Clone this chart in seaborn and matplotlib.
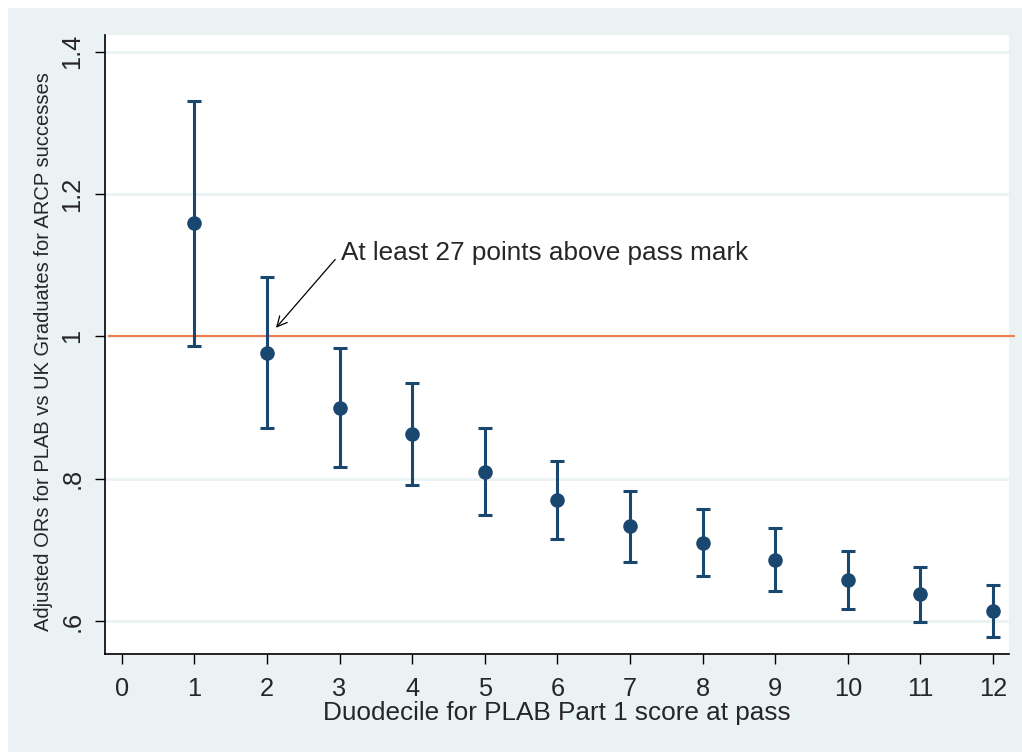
import matplotlib
matplotlib.use("Agg")
import matplotlib.pyplot as plt
import seaborn as sns
import pandas as pd

# duodecile, adjusted OR and 95% CI
duodecile = [1, 2, 3, 4, 5, 6, 7, 8, 9, 10, 11, 12]
odds_ratio = [1.159, 0.977, 0.900, 0.863, 0.810, 0.770, 0.733, 0.710, 0.686, 0.658, 0.638, 0.614]
ci_low = [0.987, 0.871, 0.817, 0.791, 0.749, 0.715, 0.683, 0.663, 0.642, 0.617, 0.599, 0.577]
ci_high = [1.330, 1.083, 0.983, 0.934, 0.871, 0.825, 0.783, 0.757, 0.731, 0.699, 0.676, 0.650]
x_ticks = list(range(0, 13))
y_ticks = [0.6, 0.8, 1.0, 1.2, 1.4]
y_tick_labels = [".6", ".8", "1", "1.2", "1.4"]

df = pd.DataFrame({"duodecile": duodecile, "or": odds_ratio, "lo": ci_low, "hi": ci_high})

bg = "#EAF2F3"
navy = "#1A476F"

sns.set_style("white")
plt.rcParams["font.family"] = ["Liberation Sans", "DejaVu Sans"]

fig = plt.figure(figsize=(10.22, 7.52), dpi=100, facecolor="white")
# light outer panel with a thin white margin on the top and left
fig.patches.append(plt.Rectangle((8 / 1022, 0), 1, 1 - 8 / 752, transform=fig.transFigure,
                                 facecolor=bg, edgecolor="none", zorder=-10))
ax = fig.add_axes([105 / 1022, 1 - 654 / 752, 904 / 1022, 619 / 752])
ax.set_zorder(1)
ax.set_facecolor("white")

for y in y_ticks:
    ax.axhline(y, color=bg, lw=2, zorder=1)
# reference line runs a little past the plot region
ax.hlines(1.0, -0.19, 12.30, color="#F07D4A", lw=1.5, zorder=2, clip_on=False)

ax.errorbar(df["duodecile"], df["or"],
            yerr=[df["or"] - df["lo"], df["hi"] - df["or"]],
            fmt="none", ecolor=navy, elinewidth=2.2, capsize=4.8, capthick=2.2, zorder=3)
sns.scatterplot(data=df, x="duodecile", y="or", color=navy, s=110, edgecolor=navy,
                linewidth=0, ax=ax, zorder=4)

# annotation: arrow and text drawn separately
ax.annotate("", xy=(2.125, 1.012), xytext=(2.94, 1.108),
            arrowprops=dict(arrowstyle="->", color="black", lw=0.9, shrinkA=0, shrinkB=0,
                            mutation_scale=18))
ax.text(3.02, 1.1067, "At least 27 points above pass mark", fontsize=18.8,
        ha="left", va="baseline")

ax.set_xlim(-0.23, 12.22)
ax.set_ylim(0.5537, 1.4234)
ax.set_xticks(x_ticks)
ax.set_yticks(y_ticks)
ax.set_yticklabels(y_tick_labels, rotation=90, va="center")
ax.tick_params(axis="both", direction="out", length=7.2, width=1, color="black",
               labelsize=18.3, left=True, bottom=True, pad=9.2)
ax.tick_params(axis="y", pad=7.8)

ax.set_xlabel("Duodecile for PLAB Part 1 score at pass", fontsize=18.8, labelpad=0)
ax.set_ylabel("Adjusted ORs for PLAB vs UK Graduates for ARCP successes", fontsize=14.5)
ax.yaxis.set_label_coords(-0.057, 0.488)

for side in ["top", "right"]:
    ax.spines[side].set_visible(False)
for side in ["left", "bottom"]:
    ax.spines[side].set_color("black")
    ax.spines[side].set_linewidth(1.2)

plt.savefig("out.png", dpi=100, facecolor=fig.get_facecolor())
